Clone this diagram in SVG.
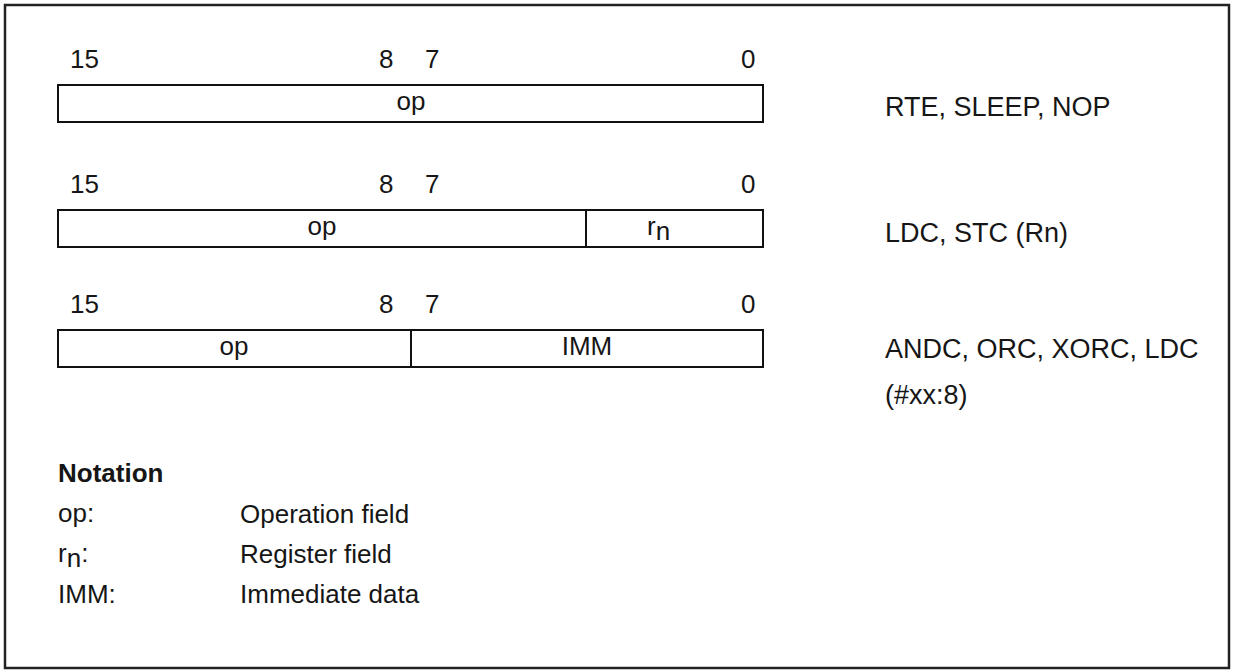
<svg xmlns="http://www.w3.org/2000/svg" width="1236" height="671" viewBox="0 0 1236 671">
<style>
  text { font-family: "Liberation Sans", Arial, sans-serif; font-size: 26px; fill: #161616; }
  .mid { text-anchor: middle; }
  .bold { font-weight: bold; }
  .lbl { font-size: 27px; }
  .box { fill: #fff; stroke: #111; stroke-width: 2; }
  .div { stroke: #111; stroke-width: 2; }
</style>
<rect x="0" y="0" width="1236" height="671" fill="#fff"/>
<rect x="5" y="5" width="1224" height="663" fill="none" stroke="#222" stroke-width="2.5"/>

<g id="format1">
  <text x="70" y="68">15</text>
  <text x="379" y="68">8</text>
  <text x="425" y="68">7</text>
  <text x="741" y="68">0</text>
  <rect class="box" x="58" y="85" width="705" height="37"/>
  <text class="mid" x="411" y="110">op</text>
  <text class="lbl" x="885" y="116">RTE, SLEEP, NOP</text>
</g>

<g id="format2">
  <text x="70" y="193">15</text>
  <text x="379" y="193">8</text>
  <text x="425" y="193">7</text>
  <text x="741" y="193">0</text>
  <rect class="box" x="58" y="210" width="705" height="37"/>
  <line class="div" x1="586" y1="210" x2="586" y2="248"/>
  <text class="mid" x="322" y="235">op</text>
  <text x="647" y="235">r<tspan dy="5">n</tspan></text>
  <text class="lbl" x="885" y="242">LDC, STC (Rn)</text>
</g>

<g id="format3">
  <text x="70" y="313">15</text>
  <text x="379" y="313">8</text>
  <text x="425" y="313">7</text>
  <text x="741" y="313">0</text>
  <rect class="box" x="58" y="330" width="705" height="37"/>
  <line class="div" x1="411" y1="330" x2="411" y2="367"/>
  <text class="mid" x="234" y="355">op</text>
  <text class="mid" x="587" y="355">IMM</text>
  <text class="lbl" x="885" y="358">ANDC, ORC, XORC, LDC</text>
  <text class="lbl" x="885" y="404">(#xx:8)</text>
</g>

<g id="notation">
  <text class="bold" x="58" y="482">Notation</text>
  <text x="58" y="522">op:</text>
  <text x="240" y="523">Operation field</text>
  <text x="58" y="562">r<tspan dy="5">n</tspan><tspan dy="-5">:</tspan></text>
  <text x="240" y="563">Register field</text>
  <text x="58" y="603">IMM:</text>
  <text x="240" y="603">Immediate data</text>
</g>
<g id="connectors"/>
</svg>
